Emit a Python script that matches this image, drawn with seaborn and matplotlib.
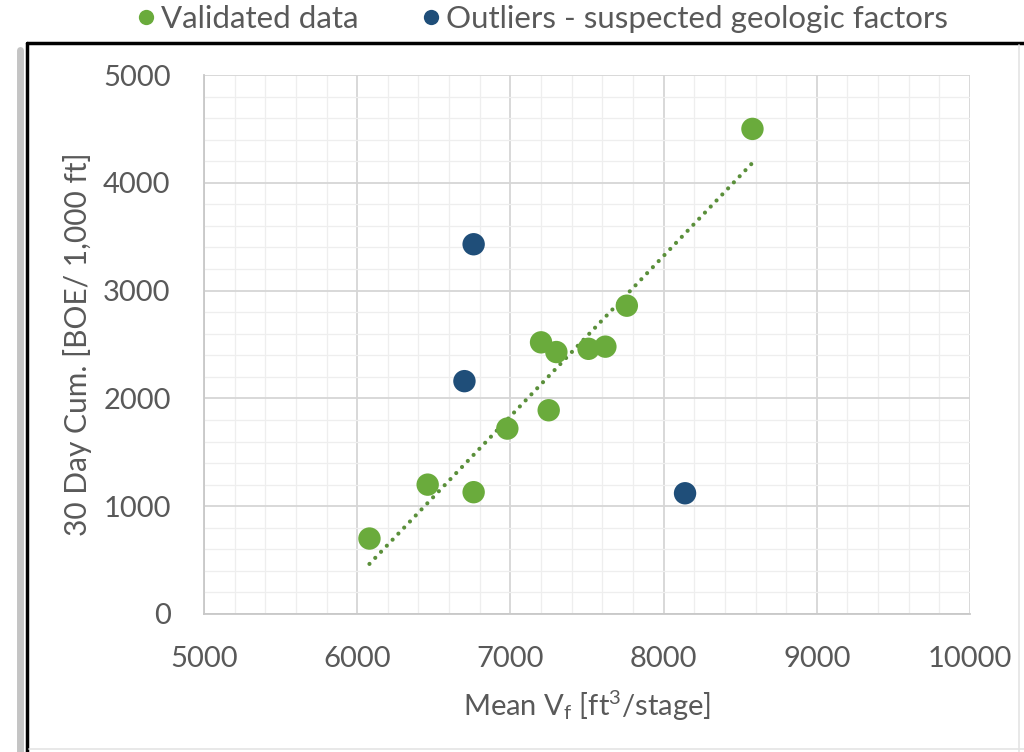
import numpy as np
import pandas as pd
import matplotlib
matplotlib.use("Agg")
import matplotlib.pyplot as plt
from matplotlib.lines import Line2D
from matplotlib.ticker import MultipleLocator
import seaborn as sns

# ---- data ----
valid_x = [6080, 6460, 6760, 6980, 7250, 7200, 7300, 7510, 7620, 7760, 8580]
valid_y = [700, 1200, 1130, 1720, 1890, 2520, 2430, 2460, 2480, 2860, 4500]
outlier_x = [6760, 6700, 8140]
outlier_y = [3430, 2160, 1120]
series_names = ["Validated data", "Outliers - suspected geologic factors"]
x_ticks = [5000, 6000, 7000, 8000, 9000, 10000]
y_ticks = [0, 1000, 2000, 3000, 4000, 5000]
x_label = "Mean V$_{f}$ [ft$^{3}$/stage]"
y_label = "30 Day Cum. [BOE/ 1,000 ft]"

GREEN = "#6aab3c"
BLUE = "#1f4e79"
TXT = "#595959"

sns.set_theme(style="white")
plt.rcParams["font.family"] = ["Lato", "DejaVu Sans"]
plt.rcParams["mathtext.default"] = "regular"

df = pd.DataFrame({
    "x": valid_x + outlier_x,
    "y": valid_y + outlier_y,
    "group": [series_names[0]] * len(valid_x) + [series_names[1]] * len(outlier_x),
})

fig = plt.figure(figsize=(10.24, 7.52), dpi=100)
ax = fig.add_axes([204 / 1024, 1 - 614 / 752, (970 - 204) / 1024, (614 - 75) / 752])

# grid
ax.xaxis.set_minor_locator(MultipleLocator(200))
ax.yaxis.set_minor_locator(MultipleLocator(200))
ax.grid(True, which="major", color="#d6d6d6", lw=1.3, zorder=0)
ax.grid(True, which="minor", color="#eeeeee", lw=0.9, zorder=0)
ax.set_axisbelow(True)

# trendline (linear fit of validated data)
sns.regplot(x=valid_x, y=valid_y, ax=ax, scatter=False, ci=None, truncate=True,
            line_kws=dict(color="#5a8f3a", lw=3.0, linestyle=(0, (0.01, 2.0)),
                          dash_capstyle="round", zorder=2))

sns.scatterplot(data=df, x="x", y="y", hue="group", ax=ax,
                palette={series_names[0]: GREEN, series_names[1]: BLUE},
                s=260, edgecolor="none", linewidth=0, legend=False, zorder=3)

ax.set_xlim(5000, 10000)
ax.set_ylim(0, 5000)
ax.set_xticks(x_ticks)
ax.set_yticks(y_ticks)
ax.tick_params(axis="both", which="major", labelsize=21, labelcolor=TXT,
               colors="#c8c8c8", length=7, width=1.2, direction="out")
ax.tick_params(axis="x", which="major", pad=16)
ax.tick_params(axis="y", which="major", pad=17)
ax.tick_params(which="minor", length=0)
for lab in ax.get_xticklabels() + ax.get_yticklabels():
    lab.set_color(TXT)

for side in ["top", "right"]:
    ax.spines[side].set_visible(False)
for side in ["left", "bottom"]:
    ax.spines[side].set_color("#c8c8c8")
    ax.spines[side].set_linewidth(1.3)

ax.set_xlabel(x_label, fontsize=21, color=TXT, labelpad=12)
ax.set_ylabel(y_label, fontsize=21.5, color=TXT, labelpad=8)

# legend
handles = [Line2D([], [], marker="o", ls="none", markersize=11, markerfacecolor=GREEN,
                  markeredgecolor="none"),
           Line2D([], [], marker="o", ls="none", markersize=11, markerfacecolor=BLUE,
                  markeredgecolor="none")]
leg = fig.legend(handles, series_names, loc="center", bbox_to_anchor=(0.528, 0.975),
                 ncol=2, frameon=False, fontsize=22.5, handletextpad=0.05,
                 columnspacing=1.9, handlelength=0.85)
for t in leg.get_texts():
    t.set_color(TXT)

# outer frame of the picture
fig.add_artist(Line2D([27 / 1024, 1.0], [1 - 43 / 752, 1 - 43 / 752], color="black",
                      lw=2.5, transform=fig.transFigure))
fig.add_artist(Line2D([27 / 1024, 27 / 1024], [0, 1 - 43 / 752], color="black",
                      lw=2.5, transform=fig.transFigure))
fig.add_artist(Line2D([20 / 1024, 20 / 1024], [0, 1 - 50 / 752], color="#c4c4c4",
                      lw=5, transform=fig.transFigure))
fig.add_artist(Line2D([1019 / 1024, 1019 / 1024], [0, 1 - 45 / 752], color="#e4e4e4",
                      lw=1.2, transform=fig.transFigure))
fig.add_artist(Line2D([29 / 1024, 1.0], [3 / 752, 3 / 752], color="#e4e4e4",
                      lw=1.2, transform=fig.transFigure))

fig.savefig("out.png", dpi=100)
